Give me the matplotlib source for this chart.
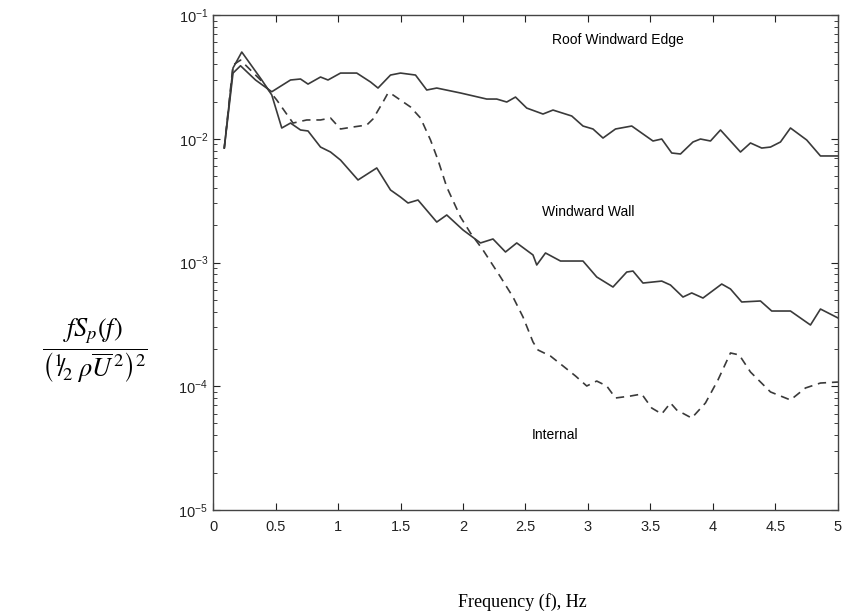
import numpy as np
import matplotlib.pyplot as plt
from matplotlib.ticker import LogLocator, NullFormatter

# ---------------------------------------------------------------------
# Spectra (f in Hz, values as log10 of normalised fSp)
# ---------------------------------------------------------------------

roof_f = [0.09, 0.16, 0.22, 0.34, 0.47, 0.62, 0.70, 0.76, 0.86, 0.92,
          1.02, 1.15, 1.26, 1.32, 1.42, 1.50, 1.62, 1.71, 1.79, 1.98,
          2.19, 2.27, 2.35, 2.42, 2.51, 2.64, 2.72, 2.87, 2.96, 3.04,
          3.12, 3.22, 3.35, 3.43, 3.52, 3.59, 3.67, 3.74, 3.84, 3.90,
          3.98, 4.06, 4.22, 4.30, 4.39, 4.46, 4.54, 4.62, 4.75, 4.86, 5.00]
roof_log = [-2.075, -1.469, -1.41, -1.525, -1.62, -1.525, -1.517, -1.558, -1.501, -1.525,
            -1.469, -1.469, -1.541, -1.59, -1.485, -1.469, -1.485, -1.606, -1.59, -1.63,
            -1.679, -1.679, -1.703, -1.663, -1.752, -1.80, -1.768, -1.816, -1.897, -1.921,
            -1.994, -1.921, -1.897, -1.954, -2.018, -2.002, -2.115, -2.123, -2.026, -2.002,
            -2.018, -1.929, -2.107, -2.034, -2.075, -2.067, -2.026, -1.913, -2.010, -2.139, -2.139]

wall_f = [0.09, 0.16, 0.23, 0.39, 0.47, 0.55, 0.62, 0.70, 0.76, 0.86,
          0.94, 1.02, 1.16, 1.31, 1.42, 1.50, 1.56, 1.64, 1.79, 1.87,
          2.00, 2.14, 2.24, 2.34, 2.43, 2.56, 2.59, 2.66, 2.78, 2.96,
          3.07, 3.20, 3.31, 3.36, 3.44, 3.59, 3.66, 3.76, 3.83, 3.92,
          4.07, 4.14, 4.23, 4.38, 4.47, 4.62, 4.78, 4.86, 5.00]
wall_log = [-2.075, -1.428, -1.299, -1.525, -1.646, -1.913, -1.873, -1.929, -1.937, -2.067,
            -2.107, -2.172, -2.333, -2.236, -2.414, -2.471, -2.519, -2.495, -2.673, -2.616,
            -2.737, -2.842, -2.810, -2.915, -2.842, -2.939, -3.020, -2.923, -2.988, -2.988,
            -3.117, -3.198, -3.077, -3.069, -3.166, -3.150, -3.182, -3.279, -3.246, -3.287,
            -3.174, -3.214, -3.319, -3.311, -3.392, -3.392, -3.505, -3.376, -3.448]

int_f = [0.09, 0.16, 0.22, 0.38, 0.51, 0.64, 0.75, 0.86, 0.94, 1.02,
         1.12, 1.23, 1.28, 1.36, 1.40, 1.44, 1.58, 1.66, 1.74, 1.80,
         1.87, 1.98, 2.06, 2.16, 2.30, 2.40, 2.48, 2.56, 2.60, 2.70,
         2.80, 2.90, 2.99, 3.07, 3.15, 3.22, 3.34, 3.43, 3.51, 3.59,
         3.66, 3.71, 3.83, 3.94, 4.04, 4.14, 4.21, 4.30, 4.46, 4.62,
         4.74, 4.86, 5.00]
int_log = [-2.075, -1.404, -1.364, -1.525, -1.687, -1.873, -1.848, -1.848, -1.832, -1.921,
           -1.905, -1.889, -1.840, -1.703, -1.630, -1.646, -1.743, -1.832, -2.010, -2.172,
           -2.390, -2.632, -2.762, -2.899, -3.117, -3.279, -3.440, -3.642, -3.707, -3.756,
           -3.836, -3.917, -3.998, -3.958, -3.998, -4.095, -4.079, -4.063, -4.176, -4.224,
           -4.135, -4.192, -4.257, -4.135, -3.949, -3.731, -3.747, -3.885, -4.046, -4.111,
           -4.014, -3.974, -3.966]

x_ticks = [0, 0.5, 1, 1.5, 2, 2.5, 3, 3.5, 4, 4.5, 5]
x_ticklabels = ["0", "0.5", "1", "1.5", "2", "2.5", "3", "3.5", "4", "4.5", "5"]

# ---------------------------------------------------------------------
# Plot
# ---------------------------------------------------------------------

plt.rcParams["font.family"] = ["Liberation Sans", "DejaVu Sans"]
plt.rcParams["mathtext.fontset"] = "stix"

fig = plt.figure(figsize=(8.46, 6.16), dpi=100)
ax = fig.add_axes([0.2518, 0.1721, 0.7387, 0.8035])

line_kw = dict(color="#3a3a3a", linewidth=1.2)
ax.plot(roof_f, 10 ** np.array(roof_log), **line_kw)
ax.plot(wall_f, 10 ** np.array(wall_log), **line_kw)
ax.plot(int_f, 10 ** np.array(int_log), linestyle=(0, (5, 3.5)), **line_kw)

ax.set_yscale("log")
ax.set_xlim(0, 5)
ax.set_ylim(1e-5, 1e-1)
ax.set_xticks(x_ticks)
ax.set_xticklabels(x_ticklabels)
ax.yaxis.set_major_locator(LogLocator(base=10, numticks=10))
ax.yaxis.set_minor_locator(LogLocator(base=10, subs=np.arange(2, 10), numticks=10))
ax.yaxis.set_minor_formatter(NullFormatter())

ax.tick_params(which="both", direction="in", top=True, right=True,
               labelsize=10.5, colors="#222222")
ax.tick_params(which="major", length=5, width=0.8)
ax.tick_params(which="minor", length=3, width=0.6)
ax.tick_params(axis="x", pad=7)
for s in ax.spines.values():
    s.set_color("#444444")
    s.set_linewidth(1.0)

ax.text(3.24, 10 ** -1.2, "Roof Windward Edge", ha="center", va="center", fontsize=10)
ax.text(3.0, 10 ** -2.59, "Windward Wall", ha="center", va="center", fontsize=10)
ax.text(2.74, 10 ** -4.39, "Internal", ha="center", va="center", fontsize=10)

fig.text(0.112, 0.43,
         r"$\dfrac{fS_p(f)}{\left({}^{1}\!\!/\!_{2}\;\rho\overline{U}^{\,2}\right)^2}$",
         ha="center", va="center", fontsize=19)
fig.text(0.618, 0.023, "Frequency (f), Hz", ha="center", va="center",
         fontsize=13, family=["Liberation Serif", "DejaVu Serif"])

fig.savefig("out.png", dpi=100)
